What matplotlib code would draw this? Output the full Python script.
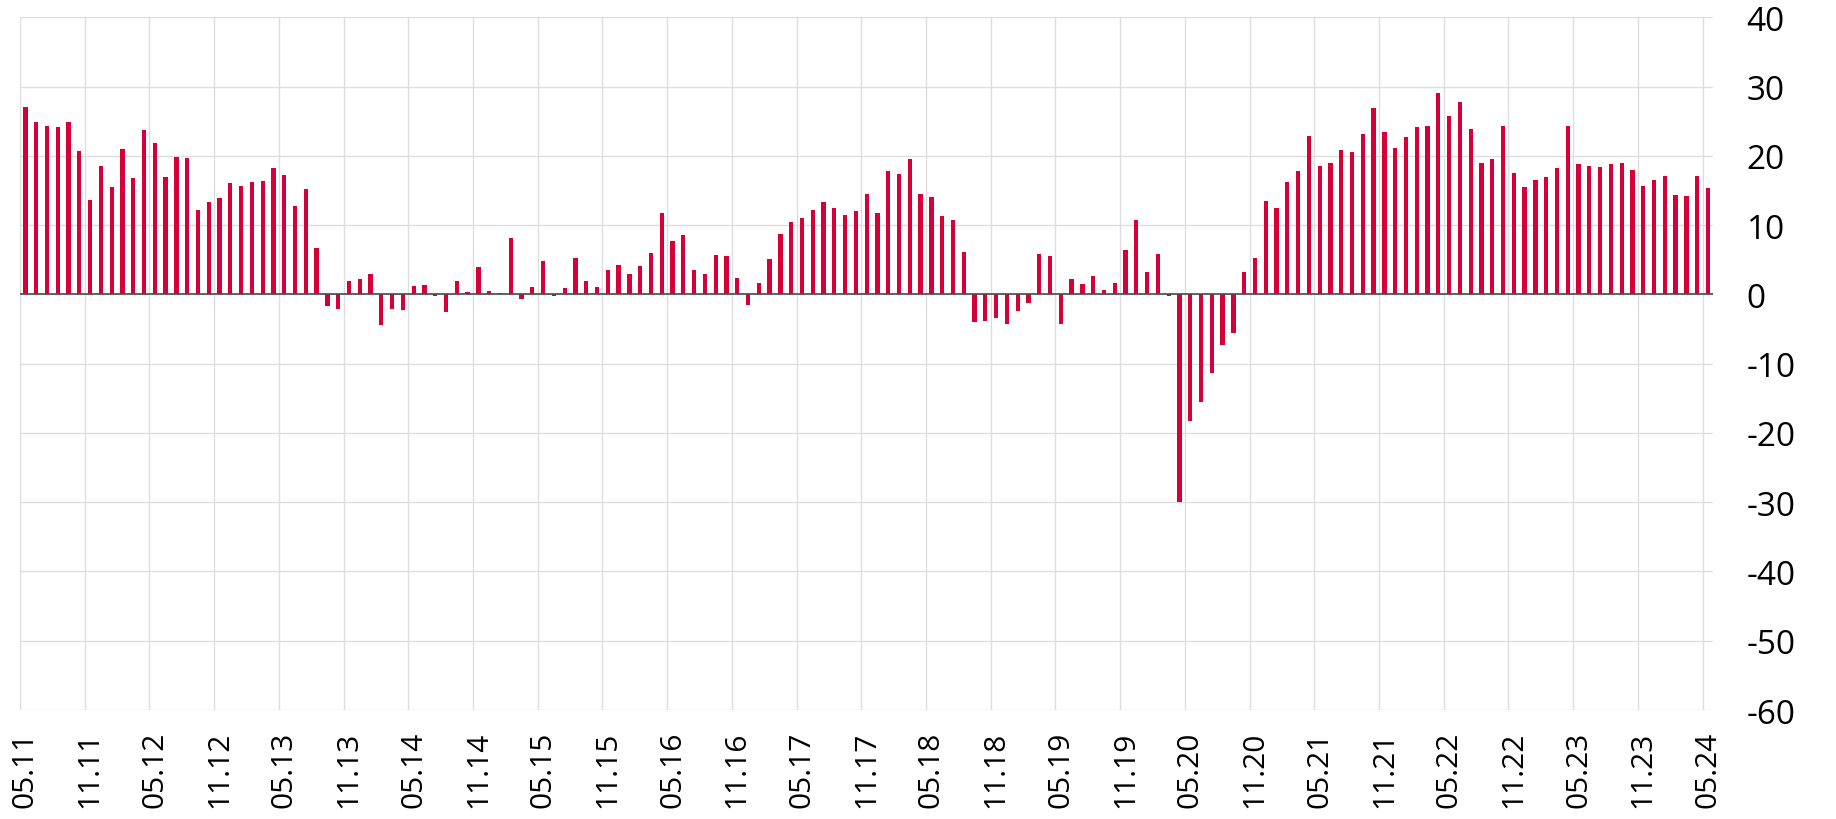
import numpy as np
import matplotlib
matplotlib.use('Agg')
import matplotlib.pyplot as plt

# valores mensais, de 05.11 a 05.24
valores = [
    27.0, 24.9, 24.3, 24.2, 24.9, 20.7, 13.6, 18.5, 15.5, 21.0, 16.8, 23.7, 21.8,
    16.9, 19.8, 19.7, 12.2, 13.4, 13.9, 16.1, 15.6, 16.2, 16.3, 18.3, 17.2, 12.7,
    15.2, 6.7, -1.7, -2.1, 2.0, 2.2, 3.0, -4.4, -2.1, -2.3, 1.2, 1.4, -0.3,
    -2.5, 2.0, 0.4, 3.9, 0.5, 0.2, 8.1, -0.6, 1.0, 4.8, -0.2, 0.9, 5.3,
    2.0, 1.0, 3.5, 4.3, 2.9, 4.1, 6.0, 11.7, 7.7, 8.6, 3.5, 2.9, 5.7,
    5.6, 2.3, -1.6, 1.6, 5.1, 8.7, 10.5, 11.0, 12.2, 13.4, 12.5, 11.4, 12.0,
    14.5, 11.7, 17.8, 17.4, 19.5, 14.5, 14.0, 11.3, 10.7, 6.1, -4.0, -3.8, -3.4,
    -4.3, -2.4, -1.2, 5.9, 5.6, -4.3, 2.2, 1.5, 2.6, 0.6, 1.6, 6.4, 10.8,
    3.3, 5.9, -0.3, -30.0, -18.3, -15.6, -11.3, -7.3, -5.6, 3.3, 5.2, 13.5, 12.5,
    16.2, 17.8, 22.8, 18.5, 19.0, 20.8, 20.5, 23.1, 26.9, 23.4, 21.2, 22.7, 24.1,
    24.3, 29.0, 25.7, 27.8, 23.9, 19.0, 19.6, 24.3, 17.5, 15.5, 16.5, 16.9, 18.2,
    24.3, 18.8, 18.6, 18.4, 18.8, 19.0, 17.9, 15.6, 16.5, 17.1, 14.3, 14.2, 17.1,
    15.3,
]

# rotulos do eixo x (de 6 em 6 meses)
rotulos = [
    '05.11', '11.11', '05.12', '11.12', '05.13', '11.13', '05.14', '11.14',
    '05.15', '11.15', '05.16', '11.16', '05.17', '11.17', '05.18', '11.18',
    '05.19', '11.19', '05.20', '11.20', '05.21', '11.21', '05.22', '11.22',
    '05.23', '11.23', '05.24',
]

yticks = [40, 30, 20, 10, 0, -10, -20, -30, -40, -50, -60]

plt.rcParams['font.family'] = ['Open Sans', 'DejaVu Sans']

fig = plt.figure(figsize=(18.36, 8.2), dpi=100)
ax = fig.add_axes([0.0109, 0.1329, 0.9223, 0.8448])

n = len(valores)
x = np.arange(n) + 0.5

# barras
ax.bar(x, valores, width=0.4, color='#d50037', zorder=3)

# linha do zero
ax.axhline(0, color='#4a4a4a', linewidth=1.2, zorder=4)

ax.set_xlim(0, n)
ax.set_ylim(-60, 40)

# grelha nas posicoes inteiras, rotulos no centro do mes
pos_grid = np.arange(0, n, 6)
ax.set_xticks(pos_grid)
ax.set_xticklabels([])
ax.set_xticks(pos_grid + 0.5, minor=True)
ax.set_xticklabels(rotulos, minor=True, rotation=90, fontsize=21.5,
                   va='top', ha='center')
ax.tick_params(axis='x', which='both', length=0)
ax.tick_params(axis='x', which='minor', pad=15)

ax.yaxis.tick_right()
ax.set_yticks(yticks)
ax.set_yticklabels([str(v) for v in yticks], fontsize=24)
ax.tick_params(axis='y', length=0, pad=24)
for lab in ax.get_yticklabels():
    lab.set_horizontalalignment('left')

ax.grid(True, which='major', color='#dddddd', linewidth=1.0, zorder=0)
ax.set_axisbelow(True)
for s in ax.spines.values():
    s.set_visible(False)

plt.savefig('out.png', dpi=100)
